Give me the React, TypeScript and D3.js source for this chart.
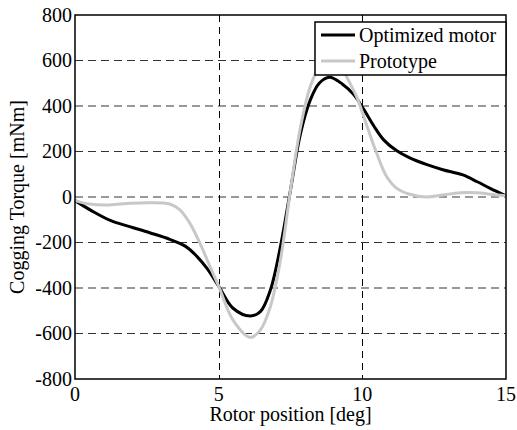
import React, { useEffect, useRef } from 'react';
import * as d3 from 'd3';

// rotor position [deg] and cogging torque [mNm]
const optimizedPos = [0, 0.6, 1.25, 1.9, 2.6, 3.3, 3.85, 4.25, 4.6, 5.0, 5.5, 6.1, 6.45, 6.8, 7.15, 7.5, 7.85, 8.2, 8.5, 8.85, 9.3, 9.7, 10.05, 10.4, 10.75, 11.2, 11.65, 12.25, 12.8, 13.5, 14.0, 14.45, 15];
const optimizedTorque = [-16, -62, -104, -130, -157, -186, -217, -262, -315, -392, -489, -523, -504, -409, -218, 31, 280, 430, 500, 526, 497, 450, 385, 312, 250, 203, 172, 142, 120, 97, 67, 38, 5];

const prototypePos = [0, 0.5, 1.2, 1.9, 2.6, 3.3, 3.65, 4.0, 4.35, 4.7, 5.0, 5.5, 6.1, 6.45, 6.8, 7.15, 7.5, 7.85, 8.2, 8.5, 8.9, 9.2, 9.45, 9.8, 10.15, 10.5, 10.85, 11.2, 11.65, 12.25, 12.8, 13.4, 14.0, 14.45, 15];
const prototypeTorque = [-16, -31, -35, -28, -25, -31, -57, -116, -204, -306, -392, -541, -617, -585, -482, -277, 31, 309, 490, 570, 612, 590, 529, 441, 316, 192, 89, 38, 12, 0, 9, 19, 19, 12, 5];

const xTicks = [0, 5, 10, 15];
const yTicks = [-800, -600, -400, -200, 0, 200, 400, 600, 800];
const seriesNames = ['Optimized motor', 'Prototype'];
const seriesColors = ['#000000', '#c8c8c8'];

const App = () => {
  const svgRef = useRef<SVGSVGElement>(null);

  useEffect(() => {
    const margin = { top: 15, right: 11, bottom: 51, left: 75 };
    const W = 517;
    const H = 430;
    const width = W - margin.left - margin.right;
    const height = H - margin.top - margin.bottom;
    const font = '"Liberation Serif", "Times New Roman", serif';

    d3.select(svgRef.current).selectAll('*').remove();
    const svg = d3
      .select(svgRef.current)
      .attr('width', W)
      .attr('height', H)
      .append('g')
      .attr('transform', `translate(${margin.left},${margin.top})`);

    const xScale = d3.scaleLinear().domain([0, 15]).range([0, width]);
    const yScale = d3.scaleLinear().domain([-800, 800]).range([height, 0]);

    // grid
    svg
      .selectAll('.hgrid')
      .data(yTicks.filter((d) => d > -800 && d < 800))
      .enter()
      .append('line')
      .attr('x1', 0)
      .attr('x2', width)
      .attr('y1', (d) => yScale(d))
      .attr('y2', (d) => yScale(d))
      .attr('stroke', '#333')
      .attr('stroke-width', 1)
      .attr('stroke-dasharray', '8,5');

    svg
      .selectAll('.vgrid')
      .data(xTicks.filter((d) => d > 0 && d < 15))
      .enter()
      .append('line')
      .attr('x1', (d) => Math.round(xScale(d)) + 0.5)
      .attr('x2', (d) => Math.round(xScale(d)) + 0.5)
      .attr('y1', 0)
      .attr('y2', height)
      .attr('stroke', '#000')
      .attr('stroke-width', 1)
      .attr('stroke-dasharray', '7,5');

    const line = d3
      .line<[number, number]>()
      .x((d) => xScale(d[0]))
      .y((d) => yScale(d[1]))
      .curve(d3.curveCatmullRom);

    const series: [number, number][][] = [
      optimizedPos.map((p, i) => [p, optimizedTorque[i]]),
      prototypePos.map((p, i) => [p, prototypeTorque[i]]),
    ];

    series.forEach((s, i) => {
      svg
        .append('path')
        .datum(s)
        .attr('d', line)
        .attr('fill', 'none')
        .attr('stroke', seriesColors[i])
        .attr('stroke-width', 3);
    });

    // axes box
    svg
      .append('rect')
      .attr('x', 0)
      .attr('y', 0)
      .attr('width', width)
      .attr('height', height)
      .attr('fill', 'none')
      .attr('stroke', '#000')
      .attr('stroke-width', 1.5);

    // tick labels
    svg
      .selectAll('.ylabel')
      .data(yTicks)
      .enter()
      .append('text')
      .attr('x', -3)
      .attr('y', (d) => yScale(d))
      .attr('dy', '0.33em')
      .attr('text-anchor', 'end')
      .style('font-family', font)
      .style('font-size', '20px')
      .text((d) => d);

    svg
      .selectAll('.xlabel')
      .data(xTicks)
      .enter()
      .append('text')
      .attr('x', (d) => xScale(d))
      .attr('y', height + 22)
      .attr('text-anchor', 'middle')
      .style('font-family', font)
      .style('font-size', '20px')
      .text((d) => d);

    svg
      .append('text')
      .attr('x', width / 2)
      .attr('y', height + 42)
      .attr('text-anchor', 'middle')
      .style('font-family', font)
      .style('font-size', '20px')
      .text('Rotor position [deg]');

    svg
      .append('text')
      .attr('transform', `translate(${-51},${height / 2}) rotate(-90)`)
      .attr('text-anchor', 'middle')
      .style('font-family', font)
      .style('font-size', '20px')
      .text('Cogging Torque [mNm]');

    // legend
    const legend = svg.append('g').attr('transform', `translate(${width - 191},7)`);
    legend
      .append('rect')
      .attr('width', 191)
      .attr('height', 53)
      .attr('fill', '#fff')
      .attr('stroke', '#000')
      .attr('stroke-width', 1.5);
    seriesNames.forEach((name, i) => {
      const y = 13 + i * 26;
      legend
        .append('line')
        .attr('x1', 6)
        .attr('x2', 40)
        .attr('y1', y)
        .attr('y2', y)
        .attr('stroke', seriesColors[i])
        .attr('stroke-width', 3);
      legend
        .append('text')
        .attr('x', 44)
        .attr('y', y)
        .attr('dy', '0.33em')
        .style('font-family', font)
        .style('font-size', '20px')
        .text(name);
    });
  }, []);

  return (
    <div style={{ position: 'absolute', left: 0, top: 0, background: '#fff' }}>
      <svg ref={svgRef} style={{ display: 'block' }}></svg>
    </div>
  );
};

export default App;
